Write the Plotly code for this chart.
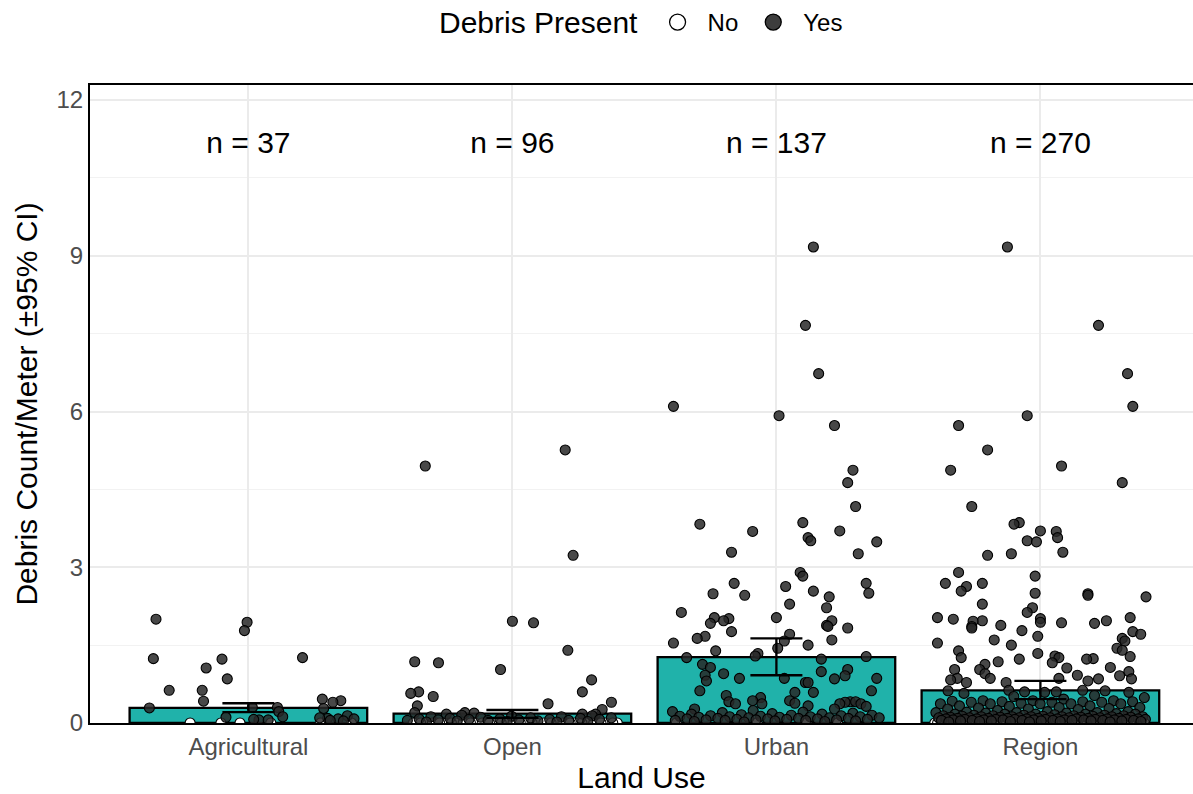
import plotly.graph_objects as go

# ---- summary per land use ----
land_use = ["Agricultural", "Open", "Urban", "Region"]
n_sites = [37, 96, 137, 270]
mean_density = [0.29, 0.18, 1.27, 0.63]
ci_low = [0.21, 0.10, 0.92, 0.46]
ci_high = [0.38, 0.25, 1.63, 0.81]

# ---- debris count per meter at sites where debris was present ----
agri_yes = [2.00, 1.94, 1.78, 1.26, 1.24, 1.23, 1.06, 0.85, 0.63, 0.63,
            0.46, 0.43, 0.42, 0.40, 0.30, 0.30, 0.29, 0.28, 0.22, 0.14,
            0.11, 0.09, 0.08, 0.08, 0.06, 0.06, 0.05, 0.04, 0.07, 0.10,
            0.12]
open_yes = [4.95, 5.26, 3.23, 1.96, 1.93, 1.40, 1.18, 1.16, 1.03, 0.83,
            0.60, 0.60, 0.57, 0.51, 0.40, 0.37, 0.33, 0.26, 0.20, 0.20,
            0.19, 0.17, 0.17, 0.17,
            0.15, 0.14, 0.13, 0.12, 0.12, 0.11, 0.10, 0.10, 0.09, 0.09,
            0.08, 0.08, 0.07, 0.07, 0.07, 0.06, 0.06, 0.05, 0.05, 0.05,
            0.04, 0.04, 0.03, 0.03, 0.02, 0.02]
urban_yes = [9.17, 7.66, 6.73, 6.10, 5.92, 5.73, 4.87, 4.63, 4.17, 3.86,
             3.83, 3.70, 3.69, 3.57, 3.51, 3.49, 3.29, 3.26, 2.90, 2.83,
             2.69, 2.69, 2.63, 2.54, 2.50, 2.49, 2.46, 2.43, 2.29, 2.22,
             2.13, 2.03, 2.03, 2.01, 1.97, 1.97, 1.92, 1.88, 1.86, 1.83,
             1.76, 1.71, 1.67, 1.63, 1.60, 1.58, 1.54, 1.50, 1.44, 1.39,
             1.34, 1.29, 1.28, 1.26, 1.23, 1.13, 1.07, 1.03, 0.99, 0.95,
             0.92, 0.91, 0.86, 0.86, 0.86, 0.85, 0.81, 0.78, 0.78, 0.62,
             0.62, 0.59, 0.59, 0.53, 0.49, 0.43, 0.43, 0.41, 0.41, 0.41,
             0.40, 0.38, 0.37, 0.37, 0.37, 0.37, 0.33, 0.32, 0.27, 0.27,
             0.24, 0.22, 0.21, 0.20, 0.19, 0.18, 0.17, 0.17, 0.16, 0.15,
             0.15, 0.14, 0.14, 0.13, 0.13, 0.12, 0.12, 0.12, 0.11, 0.11,
             0.10, 0.10, 0.10, 0.09, 0.09, 0.09, 0.08, 0.08, 0.08, 0.07,
             0.07, 0.07, 0.06, 0.06, 0.06, 0.05, 0.05, 0.05, 0.04, 0.04,
             0.03, 0.03, 0.02]

# ---- sites without debris ----
agri_no = [0.0] * 6
open_no = [0.0] * 46
urban_no = [0.0] * 4

# ---- horizontal jitter (category units) for the scattered points ----
agri_jit = [-0.35, -0.005, -0.015, 0.205, -0.36, -0.10, -0.16, -0.08, -0.30, -0.175,
            0.28, 0.35, -0.17, 0.32, 0.015, 0.11, -0.375, 0.285, 0.115, 0.375,
            -0.085, 0.30, 0.34, 0.40, 0.04, 0.075, 0.31, 0.36, 0.02, 0.27,
            0.13]
open_jit = [-0.33, 0.20, 0.23, 0.0, 0.08, 0.21, -0.37, -0.28, -0.045, 0.30,
            -0.355, 0.265, -0.385, -0.30, 0.375, 0.135, -0.36, 0.34, -0.37, -0.18,
            -0.145, -0.25, 0.265, 0.315]
urban_jit = [0.14, 0.11, 0.16, -0.39, 0.01, 0.22, 0.29, 0.27, 0.30, 0.10,
             -0.29, 0.24, -0.09, 0.12, 0.13, 0.38, -0.17, 0.31, 0.09, 0.10,
             0.34, -0.16, 0.035, 0.14, 0.35, -0.24, -0.12, 0.20, 0.05, 0.19,
             -0.36, -0.235, 0.0, -0.18, -0.20, 0.21, -0.25, 0.19, 0.195, 0.27,
             -0.17, 0.05, -0.27, -0.30, 0.21, 0.03, -0.39, 0.12, 0.005, -0.23,
             -0.07, -0.08, 0.34, -0.34, 0.17, -0.28, -0.25, 0.27, 0.17, -0.20,
             -0.27, 0.26, -0.14, 0.03, 0.38, 0.22, -0.265, 0.11, 0.12, -0.29,
             0.36, 0.07, 0.14, -0.19, -0.06, -0.09, 0.05, -0.18, 0.28, 0.30,
             0.26, 0.07, -0.155, -0.055, 0.24, 0.32, 0.12, 0.34, 0.22, -0.31]
region_jit = [-0.125, 0.22, 0.33, 0.35, -0.05, -0.31, -0.20, 0.08, -0.34, 0.31,
              -0.26, -0.08, -0.10, 0.0, 0.06, 0.065, -0.05, -0.015, 0.085, -0.11,
              -0.20, -0.31, -0.02, -0.22, -0.36, -0.28, -0.30, -0.02, 0.18, 0.18,
              0.40, -0.22, -0.03, -0.05, 0.34, -0.39, 0.0, -0.33, -0.22, 0.25,
              -0.255, 0.0, 0.08, 0.205, -0.15, -0.26, -0.26, -0.07, 0.35, 0.38,
              -0.01, 0.31, -0.175, 0.32, -0.39, -0.11, 0.29, 0.31, -0.31, -0.01,
              0.055, 0.34, 0.07, -0.30, 0.20, 0.175, -0.08, -0.16, 0.045, -0.21,
              0.265, 0.10, -0.23, -0.325, 0.335, -0.21, 0.14, 0.30, 0.07, -0.315,
              -0.19, 0.345, 0.22, -0.34, 0.18, -0.28, -0.13, 0.16, -0.12, 0.245,
              -0.35, -0.06, 0.06, 0.335]

JITTER_HALF = 0.4


def spread(count, phase):
    """Evenly scattered offsets within the jitter band."""
    return [((i * 0.6180339887 + phase) % 1.0) * 2 * JITTER_HALF - JITTER_HALF
            for i in range(count)]


def offsets(known, total, phase):
    known = list(known[:total])
    return known + spread(total - len(known), phase)


# Region pools every site from the three land uses
region_yes = sorted(agri_yes + open_yes + urban_yes, reverse=True)
region_no = agri_no + open_no + urban_no

yes_groups = [agri_yes, open_yes, urban_yes, region_yes]
yes_jit = [agri_jit, open_jit, urban_jit, region_jit]
no_groups = [agri_no, open_no, urban_no, region_no]

yes_x, yes_y, no_x, no_y = [], [], [], []
for gi, (vals, jit) in enumerate(zip(yes_groups, yes_jit)):
    offs = offsets(jit, len(vals), 0.13 * (gi + 1))
    yes_x += [gi + o for o in offs]
    yes_y += vals
for gi, vals in enumerate(no_groups):
    offs = spread(len(vals), 0.37 + 0.21 * gi)
    no_x += [gi + o for o in offs]
    no_y += vals

FONT = "Liberation Sans, Arial, sans-serif"
TEAL = "#20B2AA"
cats = list(range(len(land_use)))

fig = go.Figure()

fig.add_trace(go.Bar(
    x=cats, y=mean_density, width=0.9,
    marker=dict(color=TEAL, line=dict(color="black", width=2.3)),
    showlegend=False, hoverinfo="skip",
))

fig.add_trace(go.Scatter(
    x=no_x, y=no_y, mode="markers", showlegend=False,
    marker=dict(size=10, color="white", line=dict(color="black", width=1.1)),
))
fig.add_trace(go.Scatter(
    x=yes_x, y=yes_y, mode="markers", showlegend=False,
    marker=dict(size=10, color="rgba(40,40,40,0.85)", line=dict(color="black", width=1.1)),
))

# confidence intervals drawn above the points
fig.add_trace(go.Scatter(
    x=cats, y=mean_density, mode="markers", showlegend=False, hoverinfo="skip",
    marker=dict(size=1, opacity=0),
    error_y=dict(type="data", symmetric=False,
                 array=[h - m for h, m in zip(ci_high, mean_density)],
                 arrayminus=[m - l for m, l in zip(mean_density, ci_low)],
                 width=26, thickness=2.3, color="black"),
))

# sample sizes
LABEL_Y = 11.13
fig.add_trace(go.Scatter(
    x=cats, y=[LABEL_Y] * len(cats), mode="text", showlegend=False,
    text=[f"n = {n}" for n in n_sites], textposition="middle center",
    textfont=dict(family=FONT, size=30, color="black"), hoverinfo="skip",
))

# legend keys
fig.add_trace(go.Scatter(
    x=[None], y=[None], mode="markers", name="No",
    marker=dict(size=18, color="white", line=dict(color="black", width=1.3)),
))
fig.add_trace(go.Scatter(
    x=[None], y=[None], mode="markers", name="Yes",
    marker=dict(size=18, color="rgba(40,40,40,0.9)", line=dict(color="black", width=1.3)),
))

LEGEND_Y = 1.0987

fig.update_layout(
    width=1193, height=794,
    margin=dict(l=90, r=0, t=85, b=71),
    paper_bgcolor="white", plot_bgcolor="white",
    font=dict(family=FONT, color="black"),
    legend=dict(
        orientation="h", x=0.5055, xanchor="left", y=LEGEND_Y, yanchor="middle",
        itemwidth=50, font=dict(size=24, color="black"),
    ),
    annotations=[dict(
        text="Debris Present", xref="paper", yref="paper",
        x=0.4986, y=LEGEND_Y, xanchor="right", yanchor="middle", showarrow=False,
        font=dict(family=FONT, size=30, color="black"),
    )],
    xaxis=dict(
        range=[-0.6, 3.578], tickmode="array", tickvals=cats, ticktext=land_use,
        showgrid=True, gridcolor="#ebebeb", gridwidth=2, zeroline=False,
        showline=True, linecolor="black", linewidth=2, mirror=True,
        ticks="", tickfont=dict(size=24, color="#4d4d4d"), ticklabelstandoff=1,
        title=dict(text="Land Use", font=dict(size=30, color="black"), standoff=11),
    ),
    yaxis=dict(
        range=[0, 12.29], tickmode="array", tickvals=[0, 3, 6, 9, 12],
        showgrid=True, gridcolor="#ebebeb", gridwidth=2, zeroline=False,
        minor=dict(tickvals=[1.5, 4.5, 7.5, 10.5], showgrid=True,
                   gridcolor="#f2f2f2", gridwidth=1.2),
        showline=True, linecolor="black", linewidth=2,
        ticks="", tickfont=dict(size=24, color="#4d4d4d"),
        title=dict(text="Debris Count/Meter (±95% CI)", font=dict(size=30, color="black"), standoff=10),
    ),
)

fig.write_html("out.html")
